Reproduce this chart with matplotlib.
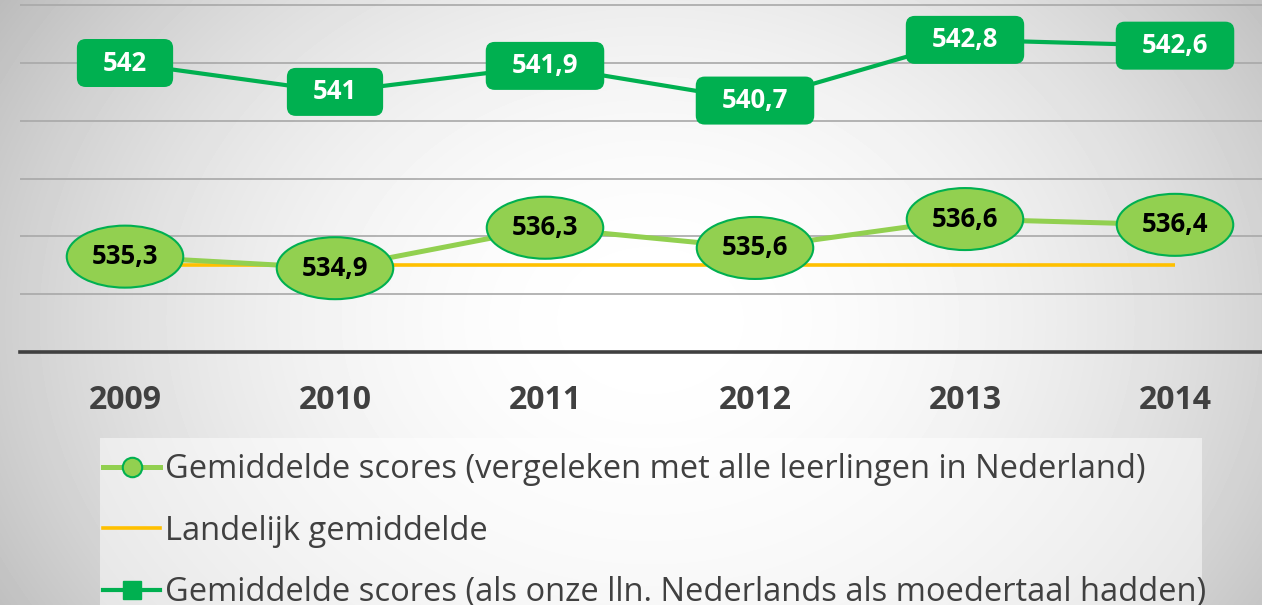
import numpy as np
import matplotlib
matplotlib.use("Agg")
import matplotlib.pyplot as plt
from matplotlib.lines import Line2D
from matplotlib.path import Path
from matplotlib.patches import BoxStyle, Rectangle
import matplotlib.transforms as mtransforms

plt.rcParams['font.family'] = ['Open Sans', 'DejaVu Sans']

# ---- data ----
years = ["2009", "2010", "2011", "2012", "2013", "2014"]
scores_all = [535.3, 534.9, 536.3, 535.6, 536.6, 536.4]
national_avg = [535.0, 535.0, 535.0, 535.0, 535.0, 535.0]
scores_native = [542.0, 541.0, 541.9, 540.7, 542.8, 542.6]

labels = [
    "Gemiddelde scores (vergeleken met alle leerlingen in Nederland)",
    "Landelijk gemiddelde",
    "Gemiddelde scores (als onze lln. Nederlands als moedertaal hadden)",
]

LIGHT = "#92D050"
DARK = "#00B050"
ORANGE = "#FFC000"
TXT = "#404040"

W, H = 1262, 605
fig = plt.figure(figsize=(W / 100, H / 100), dpi=100)

# background radial gradient
bg = fig.add_axes([0, 0, 1, 1], zorder=-10)
yy, xx = np.mgrid[0:H, 0:W]
d = np.sqrt(((xx - 650) / 760.0) ** 2 + ((yy - 320) / 600.0) ** 2)
val = 1.0 - 0.26 * np.clip(d, 0, 1.4) ** 2
bg.imshow(val, cmap="gray", vmin=0, vmax=1, aspect="auto", interpolation="bilinear")
bg.set_axis_off()

# legend panel
fig.patches.append(Rectangle((100 / W, 0), 1102 / W, (H - 438) / H,
                             transform=fig.transFigure, facecolor="white",
                             alpha=0.5, edgecolor="none", zorder=-5))

# main axes
left = 20 / W
bottom = (H - 352) / H
ax = fig.add_axes([left, bottom, 1260 / W, 352 / H])
ax.patch.set_alpha(0)
x = np.arange(len(years))
ax.set_xlim(-0.5, len(years) - 0.5)
ax.set_ylim(532, 532 + 352 / 28.9)
ax.set_yticks([534, 536, 538, 540, 542, 544])
ax.yaxis.grid(True, color="#a8a8a8", lw=1.2)
ax.set_axisbelow(True)
ax.tick_params(axis="y", left=False, labelleft=False)
for s in ["top", "right", "left"]:
    ax.spines[s].set_visible(False)
ax.spines["bottom"].set_color(TXT)
ax.spines["bottom"].set_linewidth(2.6)
ax.set_xticks(x)
ax.set_xticklabels(years, fontsize=23, fontweight="bold", color=TXT)
ax.tick_params(axis="x", length=0, pad=23)

ax.plot(x, national_avg, color=ORANGE, lw=2.6, zorder=2, solid_capstyle="butt")
ax.plot(x, scores_all, color=LIGHT, lw=3.6, zorder=3)
ax.plot(x, scores_native, color=DARK, lw=3.0, zorder=4)


def rect_style(x0, y0, width, height, mutation_size):
    cx, cy = x0 + width / 2, y0 + height / 2
    w = width + 52
    h = 48
    return BoxStyle.Round(pad=0, rounding_size=9.0 / mutation_size)(
        cx - w / 2, cy - h / 2, w, h, mutation_size)


def ellipse_style(x0, y0, width, height, mutation_size):
    cx, cy = x0 + width / 2, y0 + height / 2
    w = width + 50
    h = 62
    circ = Path.unit_circle()
    t = mtransforms.Affine2D().scale(w / 2, h / 2).translate(cx, cy)
    return t.transform_path(circ)


def fmt(v):
    s = ("%.1f" % v).replace(".", ",")
    if s.endswith(",0"):
        s = s[:-2]
    return s


for xi, v in zip(x, scores_native):
    ax.text(xi, v, fmt(v), ha="center", va="center", fontsize=18.5, fontweight="bold",
            color="white", zorder=6,
            bbox=dict(boxstyle=rect_style, fc=DARK, ec="none"))

for xi, v in zip(x, scores_all):
    ax.text(xi, v, fmt(v), ha="center", va="center", fontsize=18.5, fontweight="bold",
            color="black", zorder=6,
            bbox=dict(boxstyle=ellipse_style, fc=LIGHT, ec=DARK, lw=1.5))

handles = [
    Line2D([], [], color=LIGHT, lw=3.6, marker="o", ms=14, mfc=LIGHT, mec=DARK, mew=1.5),
    Line2D([], [], color=ORANGE, lw=2.6),
    Line2D([], [], color=DARK, lw=3.0, marker="s", ms=13, mfc=DARK, mec=DARK),
]
leg = fig.legend(handles, labels, loc="upper left",
                 bbox_to_anchor=(100 / W, 1 - 450 / H), bbox_transform=fig.transFigure,
                 frameon=False, fontsize=23.5, handlelength=1.75, handletextpad=0.15,
                 borderpad=0.1, borderaxespad=0, labelspacing=0.87, labelcolor=TXT)

fig.savefig("out.png", dpi=100)
